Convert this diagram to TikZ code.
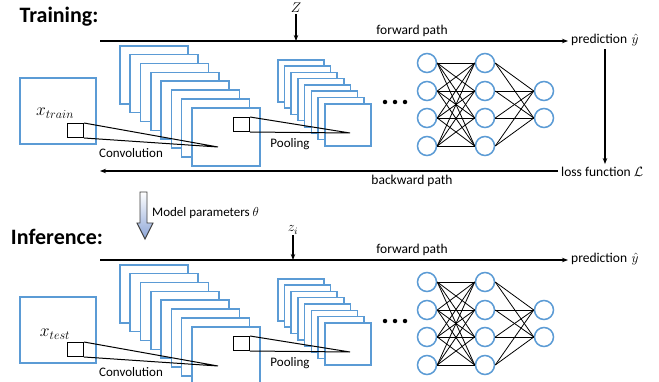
\RequirePackage{fix-cm}
\documentclass[tikz,border=0pt]{standalone}
\usepackage{fontspec}
\setmainfont{Carlito}
\usetikzlibrary{arrows.meta,shadings}
\definecolor{cblue}{RGB}{91,155,213}
\definecolor{arrblue}{RGB}{140,165,215}
\tikzset{
  fmap/.style={draw=cblue, line width=1.6pt, fill=white, inner sep=0pt, anchor=north west},
  inbox/.style={fmap, minimum width=76pt, minimum height=66pt},
  convmap/.style={fmap, minimum width=68pt, minimum height=58pt},
  poolmap/.style={fmap, minimum width=46pt, minimum height=42pt},
  sqbox/.style={draw=black, line width=1pt, inner sep=0pt, anchor=north west, minimum width=16pt, minimum height=14pt},
  thinline/.style={line width=1pt},
  neuron/.style={circle, draw=cblue, line width=1.5pt, fill=white, minimum size=19pt, inner sep=0pt},
  netline/.style={line width=0.8pt},
  dotnode/.style={circle, fill=black, minimum size=4.5pt, inner sep=0pt},
  txt/.style={font=\fontsize{13}{13}\selectfont, inner sep=1pt},
  ptxt/.style={font=\fontsize{13.5}{13.5}\selectfont, inner sep=1pt},
  arr/.style={-{Stealth[length=6pt,width=4.5pt]}, line width=1.1pt},
  title/.style={font=\fontsize{22}{22}\selectfont\bfseries, inner sep=0pt}
}
\newcommand{\cnnrow}[6]{%
\begin{scope}[shift={(0,#2)}]
  \node[inbox] (#1in) at (19,77) {};
  \node[font=\fontsize{17.5}{17.5}\selectfont, inner sep=0pt] (#1xl) at (55,#6) {$#3$};
  \foreach \i in {0,...,7} \node[convmap] (#1c\i) at ({119+10.3*\i},{45+8.86*\i}) {};
  \foreach \i in {0,...,7} \node[poolmap] (#1p\i) at ({277+6.7*\i},{59+6.3*\i}) {};
  \node[sqbox] (#1sq) at (67,123) {};
  \coordinate (#1cp) at (218,147);
  \draw[thinline] (#1sq.north east) -- (#1cp) -- (#1sq.south east);
  \node[sqbox] (#1psq) at (233,117) {};
  \coordinate (#1pp) at (350,133);
  \draw[thinline] (#1psq.north east) -- (#1pp) -- (#1psq.south east);
  \node[txt] (#1conv) at (131,153) {Convolution};
  \node[txt] (#1pool) at (290,144) {Pooling};
  \node[dotnode] (#1d1) at (385,102) {};
  \node[dotnode] (#1d2) at (395,102) {};
  \node[dotnode] (#1d3) at (405,102) {};
  \foreach \j/\y in {1/63,2/91,3/118,4/146} {
    \node[neuron] (#1a\j) at (427,\y) {};
    \node[neuron] (#1b\j) at (485,\y) {};
  }
  \node[neuron] (#1o1) at (544,91) {};
  \node[neuron] (#1o2) at (544,118) {};
  \foreach \j in {1,...,4} \foreach \k in {1,...,4} \draw[netline] (#1a\j.east) -- (#1b\k.west);
  \foreach \j in {1,...,4} \foreach \k in {1,2} \draw[netline] (#1b\j.east) -- (#1o\k.west);
  \coordinate (#1fs) at (100,41);
  \node[ptxt, anchor=west, inner sep=3pt] (#1pred) at (568,40) {prediction\,\,$\hat{y}$};
  \draw[arr] (#1fs) -- (#1fs -| #1pred.west);
  \node[ptxt] (#1fl) at (412,31) {forward path};
  \node[font=\fontsize{14}{14}\selectfont, inner sep=1pt, anchor=base] (#1z) at (#5,13) {$#4$};
  \coordinate (#1zl) at (#5,41);
  \draw[arr] (#1z.south) -- (#1zl);
\end{scope}}
\begin{document}
\begin{tikzpicture}[x=1pt,y=-1pt]
\useasboundingbox (0,0) rectangle (659,382);
\clip (0,0) rectangle (659,382);
\fill[white] (0,0) rectangle (659,382);
% ---------- Training ----------
\node[title] (ttl) at (59,17) {Training:};
\cnnrow{t}{0}{x_{train}}{Z}{296}{113}
\node[ptxt, anchor=west, inner sep=3pt] (loss) at (558,172) {loss function $\mathcal{L}$};
\draw[arr] (tpred.south -| 605,0) -- (loss.north -| 605,0);
\coordinate (tbe) at (100,171);
\draw[arr] (loss.west |- tbe) -- (tbe);
\node[ptxt] (bl) at (412,181) {backward path};
% ---------- Model parameters ----------
\shade[top color=white, bottom color=arrblue, draw=black!75, line width=0.9pt]
  (140,192) -- (147,192) -- (147,223) -- (153,223) -- (145,239) -- (137,223) -- (140,223) -- cycle;
\node[txt, anchor=west] (mp) at (151,213) {Model parameters $\theta$};
% ---------- Inference ----------
\node[title] (itl) at (57,237) {Inference:};
\cnnrow{i}{219}{x_{test}}{z_i}{293}{115}
\end{tikzpicture}
\end{document}
